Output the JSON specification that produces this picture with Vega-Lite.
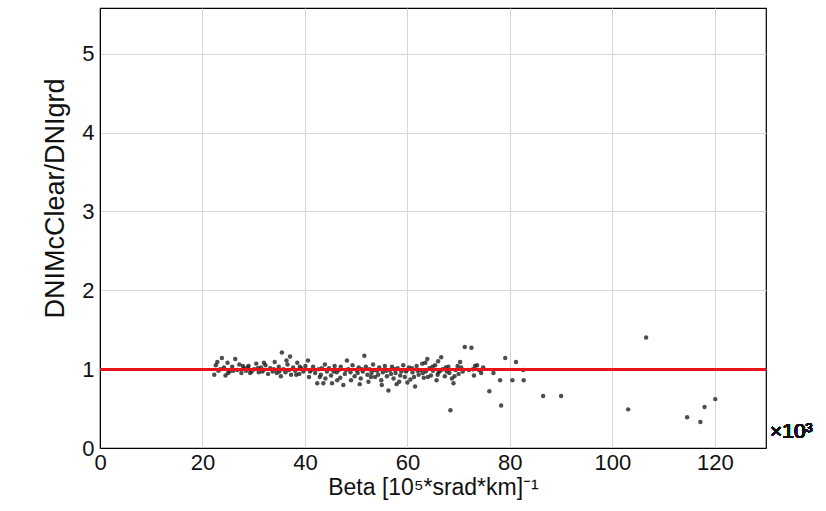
{
  "$schema": "https://vega.github.io/schema/vega-lite/v6.json",
  "width": 666,
  "height": 440,
  "autosize": "none",
  "padding": {"left": 100, "top": 8, "right": 60, "bottom": 63},
  "background": "white",
  "config": {
    "view": {"stroke": "black", "strokeWidth": 1.2},
    "font": "Liberation Sans",
    "axis": {
      "labelFont": "Liberation Sans",
      "titleFont": "Liberation Sans",
      "labelFontSize": 22,
      "titleFontSize": 23,
      "labelColor": "#111",
      "titleColor": "#111",
      "titleFontWeight": "normal",
      "gridColor": "#d6d6d6",
      "gridWidth": 1,
      "domainColor": "black",
      "tickColor": "black",
      "tickSize": 10,
      "tickOffset": 0
    }
  },
  "data": {"values": [
    {"beta": 22.3, "ratio": 0.93}, {"beta": 22.6, "ratio": 1.05}, {"beta": 23.1, "ratio": 0.98}, {"beta": 23.8, "ratio": 1.14},
    {"beta": 24.2, "ratio": 1.02}, {"beta": 24.9, "ratio": 1.08}, {"beta": 25.3, "ratio": 0.97}, {"beta": 25.8, "ratio": 1.03},
    {"beta": 26.4, "ratio": 1.13}, {"beta": 26.8, "ratio": 0.99}, {"beta": 27.2, "ratio": 1.06}, {"beta": 27.6, "ratio": 0.95},
    {"beta": 28.1, "ratio": 1.01}, {"beta": 28.5, "ratio": 0.98}, {"beta": 29.0, "ratio": 1.04}, {"beta": 29.6, "ratio": 0.97},
    {"beta": 30.1, "ratio": 1.00}, {"beta": 30.5, "ratio": 1.07}, {"beta": 31.0, "ratio": 0.96}, {"beta": 31.4, "ratio": 1.02},
    {"beta": 31.9, "ratio": 0.99}, {"beta": 32.3, "ratio": 1.05}, {"beta": 32.8, "ratio": 0.94}, {"beta": 33.2, "ratio": 1.01},
    {"beta": 33.7, "ratio": 0.97}, {"beta": 34.1, "ratio": 1.09}, {"beta": 34.5, "ratio": 0.95}, {"beta": 34.9, "ratio": 1.03},
    {"beta": 35.3, "ratio": 0.91}, {"beta": 35.5, "ratio": 1.21}, {"beta": 35.8, "ratio": 1.00}, {"beta": 36.2, "ratio": 0.96},
    {"beta": 36.6, "ratio": 1.06}, {"beta": 37.1, "ratio": 1.16}, {"beta": 37.3, "ratio": 0.93}, {"beta": 37.7, "ratio": 1.02},
    {"beta": 38.1, "ratio": 0.98}, {"beta": 38.5, "ratio": 1.08}, {"beta": 38.9, "ratio": 0.94}, {"beta": 39.3, "ratio": 1.01},
    {"beta": 39.7, "ratio": 0.97}, {"beta": 40.1, "ratio": 1.04}, {"beta": 40.6, "ratio": 1.11}, {"beta": 40.8, "ratio": 0.90},
    {"beta": 41.2, "ratio": 0.99}, {"beta": 41.6, "ratio": 1.03}, {"beta": 42.0, "ratio": 0.95}, {"beta": 42.4, "ratio": 0.82},
    {"beta": 42.7, "ratio": 1.00}, {"beta": 43.1, "ratio": 0.93}, {"beta": 43.6, "ratio": 0.82}, {"beta": 43.9, "ratio": 1.06},
    {"beta": 44.3, "ratio": 0.97}, {"beta": 44.7, "ratio": 1.01}, {"beta": 45.1, "ratio": 0.92}, {"beta": 45.3, "ratio": 0.82},
    {"beta": 45.8, "ratio": 1.04}, {"beta": 46.2, "ratio": 0.96}, {"beta": 46.6, "ratio": 0.99}, {"beta": 47.0, "ratio": 1.03},
    {"beta": 47.5, "ratio": 0.80}, {"beta": 47.8, "ratio": 0.94}, {"beta": 48.2, "ratio": 1.11}, {"beta": 48.5, "ratio": 1.00},
    {"beta": 48.9, "ratio": 0.96}, {"beta": 49.3, "ratio": 1.05}, {"beta": 49.7, "ratio": 0.91}, {"beta": 50.1, "ratio": 0.99},
    {"beta": 50.5, "ratio": 1.02}, {"beta": 50.9, "ratio": 0.88}, {"beta": 51.3, "ratio": 0.97}, {"beta": 51.6, "ratio": 1.17},
    {"beta": 51.9, "ratio": 1.03}, {"beta": 52.2, "ratio": 0.93}, {"beta": 52.6, "ratio": 1.00}, {"beta": 53.0, "ratio": 0.95},
    {"beta": 53.3, "ratio": 1.06}, {"beta": 53.7, "ratio": 0.90}, {"beta": 54.1, "ratio": 0.98}, {"beta": 54.5, "ratio": 1.02},
    {"beta": 54.9, "ratio": 0.86}, {"beta": 55.2, "ratio": 0.96}, {"beta": 55.6, "ratio": 1.04}, {"beta": 56.0, "ratio": 0.91},
    {"beta": 56.3, "ratio": 0.73}, {"beta": 56.6, "ratio": 0.99}, {"beta": 57.0, "ratio": 1.03}, {"beta": 57.3, "ratio": 0.88},
    {"beta": 57.7, "ratio": 0.95}, {"beta": 58.1, "ratio": 1.01}, {"beta": 58.4, "ratio": 0.84}, {"beta": 58.8, "ratio": 0.97},
    {"beta": 59.2, "ratio": 1.05}, {"beta": 59.5, "ratio": 0.90}, {"beta": 59.9, "ratio": 0.99}, {"beta": 60.3, "ratio": 1.02},
    {"beta": 60.6, "ratio": 0.87}, {"beta": 61.0, "ratio": 0.96}, {"beta": 61.5, "ratio": 0.78}, {"beta": 61.8, "ratio": 1.04},
    {"beta": 62.2, "ratio": 0.93}, {"beta": 62.5, "ratio": 0.99}, {"beta": 62.9, "ratio": 1.07}, {"beta": 63.2, "ratio": 0.89},
    {"beta": 63.6, "ratio": 0.97}, {"beta": 63.9, "ratio": 1.13}, {"beta": 64.3, "ratio": 1.01}, {"beta": 64.6, "ratio": 0.92},
    {"beta": 65.0, "ratio": 0.98}, {"beta": 65.4, "ratio": 1.05}, {"beta": 65.7, "ratio": 0.86}, {"beta": 66.1, "ratio": 0.96},
    {"beta": 66.6, "ratio": 1.15}, {"beta": 66.9, "ratio": 1.00}, {"beta": 67.3, "ratio": 0.91}, {"beta": 67.7, "ratio": 0.97},
    {"beta": 68.0, "ratio": 1.03}, {"beta": 68.4, "ratio": 0.48}, {"beta": 68.7, "ratio": 0.88}, {"beta": 69.0, "ratio": 0.82},
    {"beta": 69.4, "ratio": 0.99}, {"beta": 70.0, "ratio": 0.94}, {"beta": 70.5, "ratio": 1.02}, {"beta": 71.2, "ratio": 1.28},
    {"beta": 72.5, "ratio": 1.27}, {"beta": 72.8, "ratio": 1.00}, {"beta": 73.2, "ratio": 1.04}, {"beta": 73.6, "ratio": 1.05},
    {"beta": 74.0, "ratio": 0.99}, {"beta": 74.4, "ratio": 0.95}, {"beta": 76.8, "ratio": 0.95}, {"beta": 76.0, "ratio": 0.72},
    {"beta": 78.1, "ratio": 0.86}, {"beta": 78.3, "ratio": 0.54}, {"beta": 79.1, "ratio": 1.14}, {"beta": 80.5, "ratio": 0.86},
    {"beta": 81.2, "ratio": 1.09}, {"beta": 82.6, "ratio": 0.99}, {"beta": 82.7, "ratio": 0.86}, {"beta": 86.5, "ratio": 0.66},
    {"beta": 90.0, "ratio": 0.66}, {"beta": 103.1, "ratio": 0.49}, {"beta": 106.6, "ratio": 1.40}, {"beta": 114.6, "ratio": 0.39},
    {"beta": 117.2, "ratio": 0.33}, {"beta": 118.0, "ratio": 0.52}, {"beta": 120.1, "ratio": 0.62},
    {"beta": 23.5, "ratio": 1.00}, {"beta": 26.0, "ratio": 0.98}, {"beta": 28.8, "ratio": 1.02}, {"beta": 31.7, "ratio": 0.97},
    {"beta": 33.9, "ratio": 1.00}, {"beta": 36.9, "ratio": 0.99}, {"beta": 39.0, "ratio": 1.03}, {"beta": 41.0, "ratio": 0.97},
    {"beta": 43.3, "ratio": 1.01}, {"beta": 44.0, "ratio": 0.88}, {"beta": 45.6, "ratio": 0.97}, {"beta": 46.9, "ratio": 0.89},
    {"beta": 48.0, "ratio": 0.99}, {"beta": 49.0, "ratio": 0.86}, {"beta": 50.3, "ratio": 0.95}, {"beta": 51.1, "ratio": 1.00},
    {"beta": 52.9, "ratio": 0.90}, {"beta": 53.5, "ratio": 0.99}, {"beta": 54.3, "ratio": 0.93}, {"beta": 55.9, "ratio": 0.98},
    {"beta": 56.8, "ratio": 0.94}, {"beta": 57.5, "ratio": 1.00}, {"beta": 58.6, "ratio": 0.92}, {"beta": 59.7, "ratio": 0.97},
    {"beta": 60.9, "ratio": 1.01}, {"beta": 61.3, "ratio": 0.90}, {"beta": 62.0, "ratio": 0.98}, {"beta": 63.0, "ratio": 0.95},
    {"beta": 64.0, "ratio": 0.90}, {"beta": 64.9, "ratio": 1.03}, {"beta": 65.9, "ratio": 0.93}, {"beta": 66.4, "ratio": 0.98},
    {"beta": 67.5, "ratio": 1.02}, {"beta": 68.2, "ratio": 0.95}, {"beta": 69.2, "ratio": 0.91}, {"beta": 69.8, "ratio": 1.04},
    {"beta": 70.8, "ratio": 0.97}, {"beta": 72.0, "ratio": 0.99}, {"beta": 73.0, "ratio": 0.92}, {"beta": 60.0, "ratio": 0.83},
    {"beta": 57.9, "ratio": 0.81}, {"beta": 55.0, "ratio": 0.80}, {"beta": 52.4, "ratio": 0.84}, {"beta": 50.7, "ratio": 0.81},
    {"beta": 46.3, "ratio": 0.86}, {"beta": 42.9, "ratio": 0.90}, {"beta": 38.3, "ratio": 0.93}, {"beta": 35.0, "ratio": 0.97},
    {"beta": 30.8, "ratio": 1.01}, {"beta": 27.9, "ratio": 1.04}, {"beta": 25.0, "ratio": 0.95}, {"beta": 22.9, "ratio": 1.09},
    {"beta": 24.5, "ratio": 0.92}, {"beta": 29.3, "ratio": 0.95}, {"beta": 32.0, "ratio": 1.08}, {"beta": 36.4, "ratio": 1.11},
    {"beta": 63.5, "ratio": 1.08}, {"beta": 66.0, "ratio": 1.10}, {"beta": 70.3, "ratio": 1.09}, {"beta": 74.8, "ratio": 1.02}
  ]},
  "layer": [
    {
      "mark": {"type": "point", "filled": true, "size": 20, "color": "#222222", "opacity": 0.8},
      "encoding": {
        "x": {
          "field": "beta", "type": "quantitative",
          "scale": {"domain": [0, 130], "nice": false},
          "axis": {
            "values": [0, 20, 40, 60, 80, 100, 120],
            "format": "d",
            "title": "Beta [10⁵*srad*km]⁻¹",
            "titlePadding": 3,
            "labelPadding": 4,
            "tickSize": 0,
            "labelFlush": false
          }
        },
        "y": {
          "field": "ratio", "type": "quantitative",
          "scale": {"domain": [0, 5.58], "nice": false},
          "axis": {
            "values": [0, 1, 2, 3, 4, 5],
            "format": "d",
            "title": "DNIMcClear/DNIgrd",
            "titleFontSize": 27,
            "titlePadding": 12,
            "titleY": 190,
            "labelPadding": 6,
            "tickSize": 0,
            "labelFlush": false
          }
        }
      }
    },
    {
      "mark": {"type": "rule", "color": "#e8141c", "strokeWidth": 2},
      "encoding": {"y": {"datum": 1}}
    },
    {
      "mark": {"type": "text", "align": "left", "baseline": "middle", "dx": 4, "fontSize": 21, "font": "Liberation Sans", "color": "#111"},
      "encoding": {"x": {"datum": 130}, "y": {"datum": 0.2}, "text": {"value": "×10³"}}
    }
  ]
}
